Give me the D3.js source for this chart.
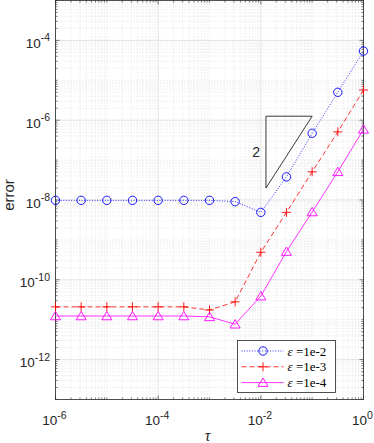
<!DOCTYPE html>
<html>
<head>
<meta charset="utf-8">
<script src="https://d3js.org/d3.v7.min.js"></script>
<style>
  body { margin: 0; padding: 0; background: #fff; }
  svg { display: block; }
  .tick-label { font-family: "Liberation Sans", Arial, sans-serif; font-size: 13.5px; fill: #262626; }
  .axis-title { font-family: "Liberation Sans", Arial, sans-serif; font-size: 16px; fill: #262626; }
  .legend-text { font-family: "Liberation Serif", "DejaVu Serif", serif; font-size: 13px; fill: #000; }
</style>
</head>
<body>
<div id="chart"></div>
<script>
  // time step values
  var tauValues = [1e-6, 3.16e-6, 1e-5, 3.16e-5, 1e-4, 3.16e-4, 1e-3, 3.16e-3, 1e-2, 3.16e-2, 1e-1, 3.16e-1, 1];
  // error for each epsilon
  var errEps2 = [9.8e-9, 9.8e-9, 9.8e-9, 9.8e-9, 9.8e-9, 9.8e-9, 9.8e-9, 9.1e-9, 4.9e-9, 3.8e-8, 4.7e-7, 5.0e-6, 5.4e-5];
  var errEps3 = [2.1e-11, 2.1e-11, 2.1e-11, 2.1e-11, 2.1e-11, 2.1e-11, 1.75e-11, 2.8e-11, 4.9e-10, 4.9e-9, 5.1e-8, 5.1e-7, 5.7e-6];
  var errEps4 = [1.24e-11, 1.24e-11, 1.24e-11, 1.24e-11, 1.24e-11, 1.24e-11, 1.18e-11, 7.7e-12, 3.9e-11, 5.1e-10, 5.0e-9, 5.1e-8, 5.9e-7];
  var legendLabels = ["1e-2", "1e-3", "1e-4"];
  var xTickExps = [-6, -4, -2, 0];
  var yTickExps = [-12, -10, -8, -6, -4];
  // slope triangle (order 2)
  var slopeTau = [10 ** -1.9, 1e-1];
  var slopeErrTop = 10 ** -5.9;

  var W = 374, H = 443;
  var margin = {left: 55.5, right: 10.5, top: 0.5, bottom: 43.5};
  var width = W - margin.left - margin.right,
      height = H - margin.top - margin.bottom;

  var x = d3.scaleLog().domain([1e-6, 1]).range([0, width]);
  var y = d3.scaleLog().domain([1e-13, 1e-3]).range([height, 0]);

  var svg = d3.select("#chart").append("svg")
    .attr("width", W).attr("height", H);

  var g = svg.append("g")
    .attr("transform", "translate(" + margin.left + "," + margin.top + ")");

  // minor/major tick positions
  var xMinor = [], yMinor = [];
  for (var e = -6; e < 0; e++) for (var m = 1; m < 10; m++) xMinor.push(m * 10 ** e);
  xMinor.push(1);
  for (var e2 = -13; e2 < -3; e2++) for (var m2 = 1; m2 < 10; m2++) yMinor.push(m2 * 10 ** e2);
  yMinor.push(1e-3);
  var xMajor = xTickExps.map(function(d) { return 10 ** d; });
  var yMajor = yTickExps.map(function(d) { return 10 ** d; });
  function isMajor(v, arr) { return arr.some(function(a) { return Math.abs(Math.log10(a) - Math.log10(v)) < 1e-6; }); }

  // minor grid
  g.selectAll(".xminor").data(xMinor.filter(function(d) { return !isMajor(d, xMajor); }))
    .enter().append("line")
    .attr("x1", function(d) { return x(d); }).attr("x2", function(d) { return x(d); })
    .attr("y1", 0).attr("y2", height)
    .style("stroke", "#d4d4d4").style("stroke-width", 0.6).style("stroke-dasharray", "1,2");
  g.selectAll(".yminor").data(yMinor.filter(function(d) { return !isMajor(d, yMajor); }))
    .enter().append("line")
    .attr("y1", function(d) { return y(d); }).attr("y2", function(d) { return y(d); })
    .attr("x1", 0).attr("x2", width)
    .style("stroke", "#d4d4d4").style("stroke-width", 0.6).style("stroke-dasharray", "1,2");

  // major grid
  g.selectAll(".xmajor").data(xMajor).enter().append("line")
    .attr("x1", function(d) { return x(d); }).attr("x2", function(d) { return x(d); })
    .attr("y1", 0).attr("y2", height)
    .style("stroke", "#dcdcdc").style("stroke-width", 0.8);
  g.selectAll(".ymajor").data(yMajor).enter().append("line")
    .attr("y1", function(d) { return y(d); }).attr("y2", function(d) { return y(d); })
    .attr("x1", 0).attr("x2", width)
    .style("stroke", "#dcdcdc").style("stroke-width", 0.8);

  // ticks on all four sides
  var axisColor = "#262626";
  var ticks = g.append("g").style("stroke", axisColor).style("stroke-width", 0.6);
  xMinor.forEach(function(d) {
    var len = isMajor(d, xMajor) ? 4 : 2;
    ticks.append("line").attr("x1", x(d)).attr("x2", x(d)).attr("y1", height).attr("y2", height - len);
    ticks.append("line").attr("x1", x(d)).attr("x2", x(d)).attr("y1", 0).attr("y2", len);
  });
  yMinor.forEach(function(d) {
    var len = isMajor(d, yMajor) ? 4 : 2;
    ticks.append("line").attr("y1", y(d)).attr("y2", y(d)).attr("x1", 0).attr("x2", len);
    ticks.append("line").attr("y1", y(d)).attr("y2", y(d)).attr("x1", width).attr("x2", width - len);
  });

  // box
  g.append("rect").attr("width", width).attr("height", height)
    .style("fill", "none").style("stroke", axisColor).style("stroke-width", 0.8);

  // tick labels
  xTickExps.forEach(function(e) {
    var t = g.append("text").attr("class", "tick-label")
      .attr("text-anchor", "middle")
      .attr("x", x(10 ** e) - 1).attr("y", height + 25.5);
    t.append("tspan").text("10");
    t.append("tspan").attr("dy", -6.5).style("font-size", "10.5px").text(String(e));
  });
  yTickExps.forEach(function(e) {
    var t = g.append("text").attr("class", "tick-label")
      .attr("text-anchor", "end")
      .attr("x", -5.5).attr("y", y(10 ** e) + 7.5);
    t.append("tspan").text("10");
    t.append("tspan").attr("dy", -6.5).style("font-size", "10.5px").text(String(e));
  });

  // axis titles
  svg.append("text").attr("class", "axis-title")
    .attr("x", 207.5).attr("y", 441)
    .attr("text-anchor", "middle")
    .style("font-family", "'Liberation Serif', serif").style("font-style", "italic")
    .text("τ");
  svg.append("text").attr("class", "axis-title")
    .style("font-size", "15px")
    .attr("transform", "translate(13.5," + 195 + ") rotate(-90)")
    .attr("text-anchor", "middle")
    .text("error");

  // slope triangle
  var sx1 = x(slopeTau[0]), sx2 = x(slopeTau[1]);
  var sy1 = y(slopeErrTop), sy2 = y(slopeErrTop * (slopeTau[0] / slopeTau[1]) ** 2);
  g.append("path")
    .attr("d", "M" + sx1 + "," + sy2 + "L" + sx1 + "," + sy1 + "L" + sx2 + "," + sy1 + "Z")
    .style("fill", "none").style("stroke", "#222").style("stroke-width", 0.9);
  g.append("text").attr("class", "tick-label")
    .style("font-size", "14px")
    .attr("x", sx1 - 6).attr("y", (sy1 + sy2) / 2 + 5)
    .attr("text-anchor", "end").text("2");

  // series
  var series = [
    {vals: errEps2, color: "#0000ff", dash: "1,1.6", marker: "circle"},
    {vals: errEps3, color: "#ff0000", dash: "5,3", marker: "plus"},
    {vals: errEps4, color: "#ff00ff", dash: null, marker: "triangle"}
  ];

  var line = d3.line()
    .x(function(d) { return x(d[0]); })
    .y(function(d) { return y(d[1]); });

  function drawMarker(sel, type, color) {
    if (type === "circle") {
      sel.append("circle").attr("r", 4.2)
        .style("fill", "none").style("stroke", color).style("stroke-width", 0.9);
    } else if (type === "plus") {
      sel.append("path").attr("d", "M-4.5,0H4.5M0,-4.5V4.5")
        .style("fill", "none").style("stroke", color).style("stroke-width", 0.9);
    } else {
      sel.append("path").attr("d", "M0,-4.6L5,3.8L-5,3.8Z")
        .style("fill", "none").style("stroke", color).style("stroke-width", 0.9);
    }
  }

  series.forEach(function(s) {
    var pts = tauValues.map(function(t, i) { return [t, s.vals[i]]; });
    g.append("path").datum(pts)
      .attr("d", line)
      .style("fill", "none").style("stroke", s.color).style("stroke-width", 0.8)
      .style("stroke-dasharray", s.dash);
    pts.forEach(function(p) {
      var mg = g.append("g").attr("transform", "translate(" + x(p[0]) + "," + y(p[1]) + ")");
      drawMarker(mg, s.marker, s.color);
    });
  });

  // legend
  var lg = svg.append("g").attr("transform", "translate(237.5,340.5)");
  lg.append("rect").attr("width", 98).attr("height", 52)
    .style("fill", "#fff").style("stroke", axisColor).style("stroke-width", 0.8);
  series.forEach(function(s, i) {
    var ly = 10.5 + i * 15.8;
    lg.append("line").attr("x1", 4).attr("x2", 46).attr("y1", ly).attr("y2", ly)
      .style("stroke", s.color).style("stroke-width", 0.8).style("stroke-dasharray", s.dash);
    var mg = lg.append("g").attr("transform", "translate(25.5," + ly + ")");
    drawMarker(mg, s.marker, s.color);
    var t = lg.append("text").attr("class", "legend-text")
      .attr("x", 50).attr("y", ly + 4.5);
    t.append("tspan").style("font-style", "italic").text("ε");
    t.append("tspan").text(" =" + legendLabels[i]);
  });
</script>
</body>
</html>
